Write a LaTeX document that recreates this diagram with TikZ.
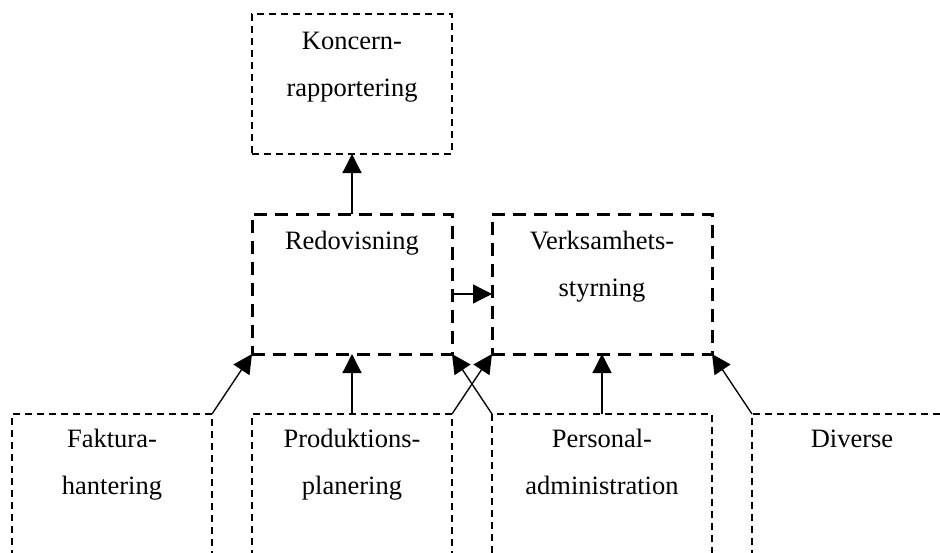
\documentclass[tikz,border=0pt]{standalone}
\usepackage{fontspec}
\setmainfont{Liberation Serif}
\usetikzlibrary{arrows.meta}
\begin{document}
\begin{tikzpicture}[x=1pt,y=-1pt,
  thinbox/.style={draw, line width=1.1pt, dash pattern=on 7pt off 5pt,
    outer sep=0pt, inner sep=0pt, anchor=north west},
  thickbox/.style={draw, line width=3pt, dash pattern=on 13pt off 8pt,
    outer sep=0pt, inner sep=0pt, anchor=north west},
  lbl/.style={align=center, anchor=base, inner sep=0pt,
    font=\fontsize{26.5}{47}\selectfont},
  link/.style={line width=1.3pt, -{Triangle[length=19pt,width=19pt]}}]
\useasboundingbox (0,0) rectangle (940,552);
\clip (0,0) rectangle (940,552);

% upper level
\node[thinbox, minimum width=200pt, minimum height=140pt] (kon) at (252,14) {};
\node[thickbox, minimum width=200pt, minimum height=140pt] (red) at (252,214) {};
\node[thickbox, minimum width=220pt, minimum height=140pt] (ver) at (492,214) {};

% lower level (runs past the lower edge)
\node[thinbox, minimum width=200pt, minimum height=160pt] (fak) at (12,414) {};
\node[thinbox, minimum width=200pt, minimum height=160pt] (pro) at (252,414) {};
\node[thinbox, minimum width=220pt, minimum height=160pt] (per) at (492,414) {};
\node[thinbox, minimum width=200pt, minimum height=160pt] (div) at (752,414) {};

% labels (base = baseline of the last line)
\node[lbl] (tkon) at (352,96) {Koncern-\\rapportering};
\node[lbl] (tred) at (352,249) {Redovisning};
\node[lbl] (tver) at (602,296) {Verksamhets-\\styrning};
\node[lbl] (tfak) at (112,494) {Faktura-\\hantering};
\node[lbl] (tpro) at (352,494) {Produktions-\\planering};
\node[lbl] (tper) at (602,494) {Personal-\\administration};
\node[lbl] (tdiv) at (852,447) {Diverse};

% connectors
\draw[link] (red.north) -- (kon.south);
\draw[link] ([yshift=-10pt]red.east) -- ([yshift=-10pt]ver.west);
\draw[link] (fak.north east) -- (red.south west);
\draw[link] (pro.north) -- (red.south);
\draw[link] (pro.north east) -- (ver.south west);
\draw[link] (per.north west) -- (red.south east);
\draw[link] (per.north) -- (ver.south);
\draw[link] (div.north west) -- (ver.south east);
\end{tikzpicture}
\end{document}
